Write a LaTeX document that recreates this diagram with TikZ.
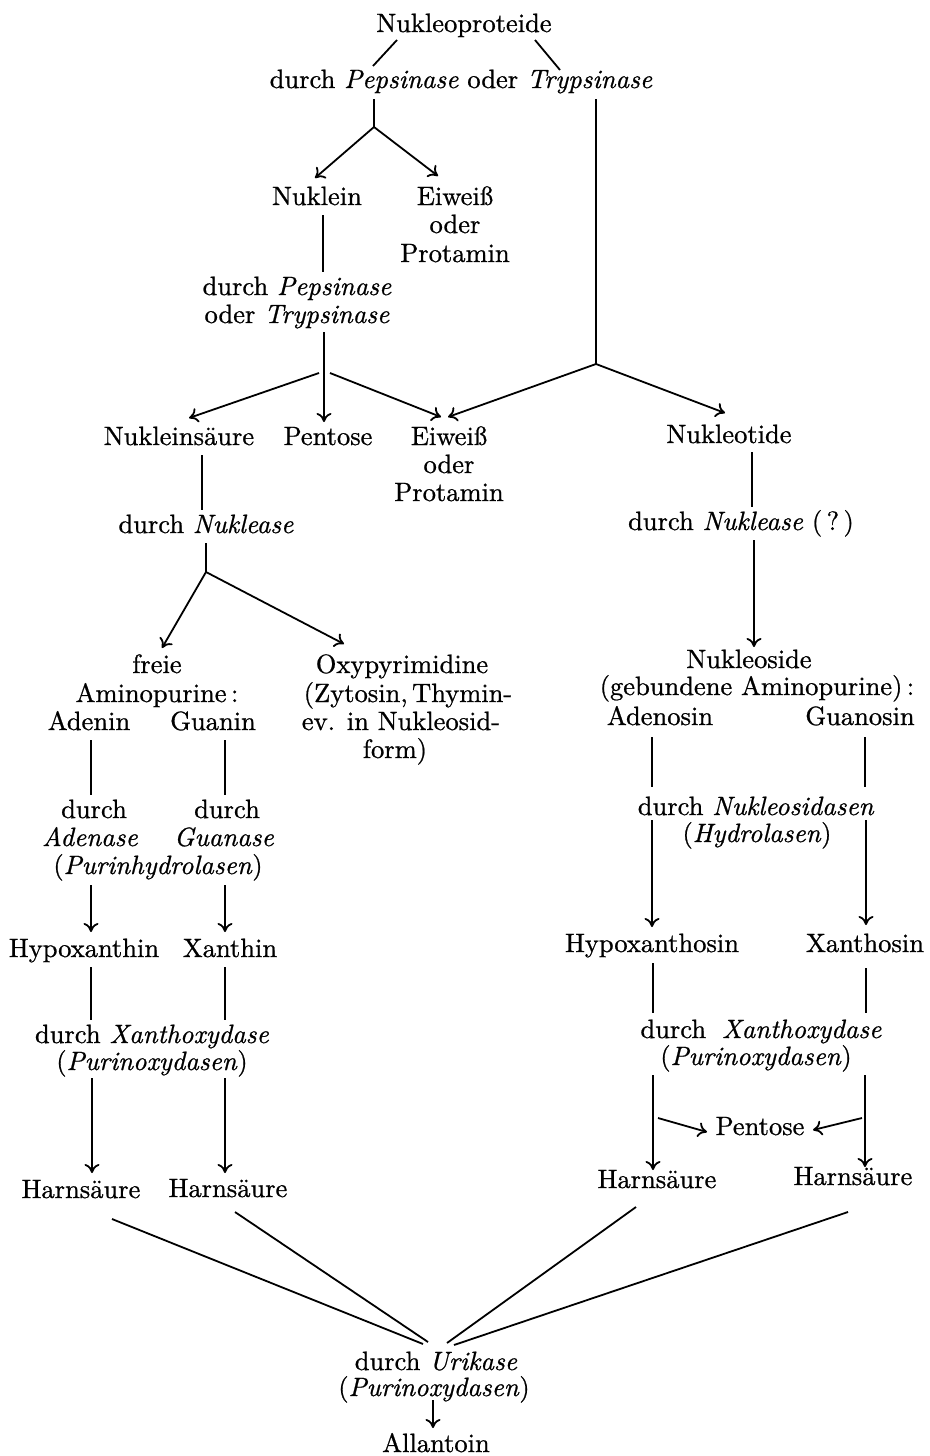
\documentclass[tikz,border=0pt]{standalone}
\usepackage{fontspec}
\setmainfont{lmroman10-regular.otf}[ItalicFont=lmroman10-italic.otf, FakeBold=0.8]
\usetikzlibrary{arrows.meta}
\begin{document}
\begin{tikzpicture}[x=1pt,y=-1pt,
  lbl/.style={scale=2.65, anchor=base, inner sep=0pt, font=\fontsize{10}{10.75}\selectfont},
  link/.style={line width=1.8pt},
  flow/.style={line width=1.8pt, -{To[length=9pt,width=15pt]}}]
\fill[white] (0,0) rectangle (929,1456);
\useasboundingbox (0,0) rectangle (929,1456);

% ---------- texts ----------
\node[lbl] (np) at (464,32) {Nukleoproteide};
\node[lbl] (enzA) at (461,88) {durch \textit{Pepsinase} oder \textit{Trypsinase}};
\node[lbl] (nuklein) at (317,205) {Nuklein};
\node[lbl] (eiwA1) at (455,205) {Eiweiß};
\node[lbl] (eiwA2) at (455,233) {oder};
\node[lbl] (eiwA3) at (455,262) {Protamin};
\node[lbl] (enzB1) at (297,295) {durch \textit{Pepsinase}};
\node[lbl] (enzB2) at (297,323) {oder \textit{Trypsinase}};
\node[lbl] (nsaeure) at (179,445) {Nukleinsäure};
\node[lbl] (pentA) at (328,445) {Pentose};
\node[lbl] (eiwB1) at (449,445) {Eiweiß};
\node[lbl] (eiwB2) at (449,473) {oder};
\node[lbl] (eiwB3) at (449,501) {Protamin};
\node[lbl] (nukleotide) at (729,443) {Nukleotide};
\node[lbl] (enzC) at (206,533) {durch \textit{Nuklease}};
\node[lbl] (enzD) at (741,530) {durch \textit{Nuklease} (\,?\,)};
\node[lbl] (freie) at (157,673) {freie};
\node[lbl] (aminop) at (157,702) {Aminopurine\,:};
\node[lbl] (adenin) at (89,730) {Adenin};
\node[lbl] (guanin) at (213,730) {Guanin};
\node[lbl] (oxy1) at (402,673) {Oxypyrimidine};
\node[lbl] (oxy2) at (408,702) {(Zytosin,\,Thymin-};
\node[lbl] (oxy3) at (401,730) {ev. in Nukleosid-};
\node[lbl] (oxy4) at (395,758) {form)};
\node[lbl] (nukleoside) at (749,668) {Nukleoside};
\node[lbl] (gebund) at (757,695) {(gebundene Aminopurine)\,:};
\node[lbl] (adenosin) at (660,725) {Adenosin};
\node[lbl] (guanosin) at (860,725) {Guanosin};
\node[lbl] (durchAd) at (94,818) {durch};
\node[lbl] (durchGu) at (227,818) {durch};
\node[lbl] (adenase) at (90,846) {\textit{Adenase}};
\node[lbl] (guanase) at (224,846) {\textit{Guanase}};
\node[lbl] (hydA) at (158,874) {(\textit{Purinhydrolasen})};
\node[lbl] (enzN) at (756,815) {durch \textit{Nukleosidasen}};
\node[lbl] (hydB) at (757,842) {(\textit{Hydrolasen})};
\node[lbl] (hypox) at (84,957) {Hypoxanthin};
\node[lbl] (xanthin) at (230,957) {Xanthin};
\node[lbl] (hypoxo) at (652,952) {Hypoxanthosin};
\node[lbl] (xanthosin) at (865,952) {Xanthosin};
\node[lbl] (xoxA) at (152,1043) {durch \textit{Xanthoxydase}};
\node[lbl] (poxA) at (152,1070) {(\textit{Purinoxydasen})};
\node[lbl] (xoxB) at (761,1038) {durch\hspace{0.6em}\textit{Xanthoxydase}};
\node[lbl] (poxB) at (756,1065) {(\textit{Purinoxydasen})};
\node[lbl] (pentB) at (760,1135) {Pentose};
\node[lbl] (harnA) at (81,1198) {Harnsäure};
\node[lbl] (harnB) at (228,1197) {Harnsäure};
\node[lbl] (harnC) at (657,1188) {Harnsäure};
\node[lbl] (harnD) at (853,1185) {Harnsäure};
\node[lbl] (urik) at (436,1370) {durch \textit{Urikase}};
\node[lbl] (poxC) at (434,1396) {(\textit{Purinoxydasen})};
\node[lbl] (allantoin) at (436,1452) {Allantoin};

% ---------- connector end points ----------
\coordinate (npL) at (397,40);   \coordinate (enzAL) at (373,66);
\coordinate (npR) at (535,40);   \coordinate (enzAR) at (560,70);
\coordinate (pepTop) at (374,99); \coordinate (pepJ) at (374,127);
\coordinate (nukleinTip) at (315,178); \coordinate (eiwATip) at (438,176);
\coordinate (tryTop) at (596,99); \coordinate (tryJ) at (596,364);
\coordinate (nukleinBot) at (323,215); \coordinate (enzBTop) at (323,272);
\coordinate (enzBBot) at (324,332);
\coordinate (enzBJl) at (319,373); \coordinate (enzBJr) at (330,373);
\coordinate (nsaeureTip) at (189,418); \coordinate (pentATip) at (324,422);
\coordinate (eiwBTipL) at (441,417); \coordinate (eiwBTipR) at (448,417);
\coordinate (nukleotideTip) at (725,413);
\coordinate (nsaeureBot) at (202,455); \coordinate (enzCTop) at (202,510);
\coordinate (enzCBot) at (206,543); \coordinate (enzCJ) at (206,572);
\coordinate (freieTip) at (162,648); \coordinate (oxyTip) at (344,644);
\coordinate (nukleotideBot) at (752,452); \coordinate (enzDTop) at (752,507);
\coordinate (enzDBot) at (754,540); \coordinate (nukleosideTip) at (754,647);
% left column
\coordinate (adeninBot) at (91,740);  \coordinate (durchAdTop) at (91,795);
\coordinate (guaninBot) at (225,740); \coordinate (durchGuTop) at (225,795);
\coordinate (hydAL) at (91,885);  \coordinate (hypoxTip) at (91,932);
\coordinate (hydAR) at (225,885); \coordinate (xanthinTip) at (225,932);
\coordinate (hypoxBot) at (91,967);  \coordinate (xoxAL) at (91,1020);
\coordinate (xanthinBot) at (225,967); \coordinate (xoxAR) at (225,1020);
\coordinate (poxAL) at (92,1078);  \coordinate (harnATip) at (92,1173);
\coordinate (poxAR) at (225,1078); \coordinate (harnBTip) at (225,1173);
% right column
\coordinate (adenosinBot) at (652,737); \coordinate (enzNL) at (652,787);
\coordinate (guanosinBot) at (865,737); \coordinate (enzNR) at (865,787);
\coordinate (hydBL) at (652,820); \coordinate (hypoxoTip) at (652,927);
\coordinate (hydBR) at (866,820); \coordinate (xanthosinTip) at (866,925);
\coordinate (hypoxoBot) at (653,963); \coordinate (xoxBL) at (653,1013);
\coordinate (xanthosinBot) at (866,968); \coordinate (xoxBR) at (866,1013);
\coordinate (poxBL) at (653,1075); \coordinate (harnCTip) at (653,1170);
\coordinate (poxBR) at (865,1075); \coordinate (harnDTip) at (865,1167);
\coordinate (pentBfromL) at (658,1118); \coordinate (pentBTipL) at (707,1132);
\coordinate (pentBfromR) at (862,1118); \coordinate (pentBTipR) at (813,1130);
% converging to the urikase step
\coordinate (harnAEnd) at (112,1219); \coordinate (harnBEnd) at (235,1212);
\coordinate (harnCEnd) at (636,1207); \coordinate (harnDEnd) at (848,1212);
\coordinate (urikL1) at (423,1344); \coordinate (urikL2) at (428,1342);
\coordinate (urikR1) at (447,1343); \coordinate (urikR2) at (454,1345);
\coordinate (poxCBot) at (433,1400); \coordinate (allantoinTip) at (433,1428);

% ---------- connectors ----------
\draw[link] (npL) -- (enzAL);
\draw[link] (npR) -- (enzAR);
\draw[link] (pepTop) -- (pepJ);
\draw[flow] (pepJ) -- (nukleinTip);
\draw[flow] (pepJ) -- (eiwATip);
\draw[link] (tryTop) -- (tryJ);
\draw[flow] (tryJ) -- (eiwBTipR);
\draw[flow] (tryJ) -- (nukleotideTip);
\draw[link] (nukleinBot) -- (enzBTop);
\draw[flow] (enzBBot) -- (pentATip);
\draw[flow] (enzBJl) -- (nsaeureTip);
\draw[flow] (enzBJr) -- (eiwBTipL);
\draw[link] (nsaeureBot) -- (enzCTop);
\draw[link] (enzCBot) -- (enzCJ);
\draw[flow] (enzCJ) -- (freieTip);
\draw[flow] (enzCJ) -- (oxyTip);
\draw[link] (nukleotideBot) -- (enzDTop);
\draw[flow] (enzDBot) -- (nukleosideTip);

\draw[link] (adeninBot) -- (durchAdTop);
\draw[link] (guaninBot) -- (durchGuTop);
\draw[flow] (hydAL) -- (hypoxTip);
\draw[flow] (hydAR) -- (xanthinTip);
\draw[link] (hypoxBot) -- (xoxAL);
\draw[link] (xanthinBot) -- (xoxAR);
\draw[flow] (poxAL) -- (harnATip);
\draw[flow] (poxAR) -- (harnBTip);

\draw[link] (adenosinBot) -- (enzNL);
\draw[link] (guanosinBot) -- (enzNR);
\draw[flow] (hydBL) -- (hypoxoTip);
\draw[flow] (hydBR) -- (xanthosinTip);
\draw[link] (hypoxoBot) -- (xoxBL);
\draw[link] (xanthosinBot) -- (xoxBR);
\draw[flow] (poxBL) -- (harnCTip);
\draw[flow] (poxBR) -- (harnDTip);
\draw[flow] (pentBfromL) -- (pentBTipL);
\draw[flow] (pentBfromR) -- (pentBTipR);

\draw[link] (harnAEnd) -- (urikL1);
\draw[link] (harnBEnd) -- (urikL2);
\draw[link] (harnCEnd) -- (urikR1);
\draw[link] (harnDEnd) -- (urikR2);
\draw[flow] (poxCBot) -- (allantoinTip);
\end{tikzpicture}
\end{document}
